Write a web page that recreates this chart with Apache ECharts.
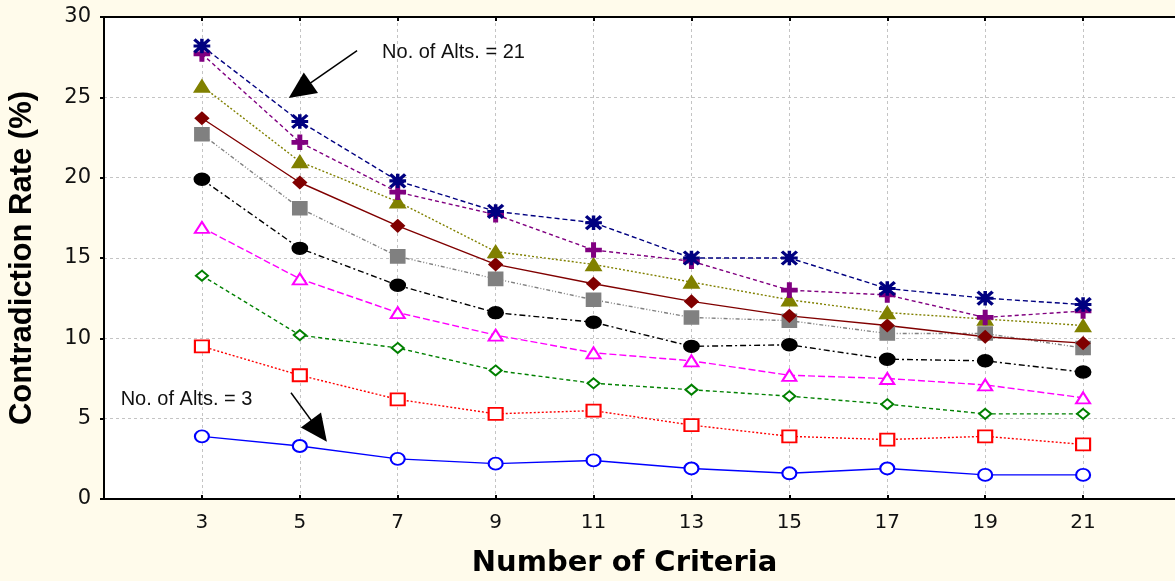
<!DOCTYPE html>
<html>
<head>
<meta charset="utf-8">
<script src="https://cdn.jsdelivr.net/npm/echarts@6/dist/echarts.min.js"></script>
<style>
html,body{margin:0;padding:0;background:#FFFBEB;}
#c{width:1175px;height:581px;}
</style>
</head>
<body>
<div id="c"></div>
<script>
// ---- data ----
const criteria = [3, 5, 7, 9, 11, 13, 15, 17, 19, 21];
const alts3  = [3.9, 3.3, 2.5, 2.2, 2.4, 1.9, 1.6, 1.9, 1.5, 1.5];
const alts5  = [9.5, 7.7, 6.2, 5.3, 5.5, 4.6, 3.9, 3.7, 3.9, 3.4];
const alts7  = [13.9, 10.2, 9.4, 8.0, 7.2, 6.8, 6.4, 5.9, 5.3, 5.3];
const alts9  = [16.9, 13.7, 11.6, 10.2, 9.1, 8.6, 7.7, 7.5, 7.1, 6.3];
const alts11 = [19.9, 15.6, 13.3, 11.6, 11.0, 9.5, 9.6, 8.7, 8.6, 7.9];
const alts13 = [22.7, 18.1, 15.1, 13.7, 12.4, 11.3, 11.1, 10.3, 10.3, 9.4];
const alts15 = [23.7, 19.7, 17.0, 14.6, 13.4, 12.3, 11.4, 10.8, 10.1, 9.7];
const alts17 = [25.7, 21.0, 18.5, 15.4, 14.6, 13.5, 12.4, 11.6, 11.2, 10.8];
const alts19 = [27.7, 22.2, 19.1, 17.7, 15.5, 14.8, 13.0, 12.7, 11.3, 11.7];
const alts21 = [28.2, 23.5, 19.8, 17.9, 17.2, 15.0, 15.0, 13.1, 12.5, 12.1];
const xTickLabels = ['3', '5', '7', '9', '11', '13', '15', '17', '19', '21'];
const xAxisTitle = 'Number of Criteria';
const yAxisTitle = 'Contradiction Rate (%)';
const yMin = 0, yMax = 30, yStep = 5;
const xMinCriteria = 1, xMaxCriteria = 23;

// annotation anchors in data units (criteria, rate)
const note21 = {text: 'No. of Alts. = 21', c: 6.68, v: 27.8};
const note3  = {text: 'No. of Alts. = 3',  c: 1.34, v: 6.18};
const arrow21 = {from: [6.17, 27.9], to: [5.0, 25.43]};
const arrow3  = {from: [4.82, 6.61], to: [5.39, 4.24]};

// criteria -> index on an evenly spaced value axis (one step per 2 criteria)
const xi = c => (c - xMinCriteria) / 2;

const starPath = 'path://M0,8.8H20V11.2H0Z M8.8,0H11.2V20H8.8Z M1.7,0L20,18.3L18.3,20L0,1.7Z M18.3,0L20,1.7L1.7,20L0,18.3Z';
const plusPath = 'path://M7,0H11V7H18V11H11V18H7V11H0V7H7Z';

function mk(values, name, color, dash, symbol, size, width) {
  return {
    name: name,
    type: 'line',
    data: criteria.map((c, i) => [xi(c), values[i]]),
    symbol: symbol,
    symbolSize: size,
    showAllSymbol: true,
    lineStyle: {color: color, width: width || 1.4, type: dash},
    itemStyle: {color: color, borderColor: color, borderWidth: 1.6},
    emphasis: {disabled: true},
    animation: false,
    z: 3
  };
}

const series = [
  mk(alts3,  'Alts 3',  '#0000FF', 'solid', 'emptyCircle', [14, 12]),
  mk(alts5,  'Alts 5',  '#FF0000', [2, 2], 'emptyRect', [14, 12]),
  mk(alts7,  'Alts 7',  '#008000', [4, 3], 'emptyDiamond', [12, 10]),
  mk(alts9,  'Alts 9',  '#FF00FF', [7, 3], 'emptyTriangle', [14, 11]),
  mk(alts11, 'Alts 11', '#000000', [6, 3, 2, 3], 'circle', [15, 12]),
  mk(alts13, 'Alts 13', '#808080', [4, 2, 1, 2, 1, 2], 'rect', [14, 13]),
  mk(alts15, 'Alts 15', '#800000', 'solid', 'diamond', [13, 12]),
  mk(alts17, 'Alts 17', '#808000', [2, 2], 'triangle', [15, 12]),
  mk(alts19, 'Alts 19', '#800080', [4, 3], plusPath, [15, 14]),
  mk(alts21, 'Alts 21', '#000080', [5, 3], starPath, [15, 13])
];

// annotations attached to the last series
series[series.length - 1].markLine = {
  silent: true,
  animation: false,
  symbol: ['none', 'triangle'],
  symbolSize: [25, 27],
  lineStyle: {color: '#000', width: 1.5, type: 'solid'},
  itemStyle: {color: '#000'},
  label: {show: false},
  emphasis: {disabled: true},
  data: [
    [{coord: [xi(arrow21.from[0]), arrow21.from[1]]}, {coord: [xi(arrow21.to[0]), arrow21.to[1]]}],
    [{coord: [xi(arrow3.from[0]), arrow3.from[1]]}, {coord: [xi(arrow3.to[0]), arrow3.to[1]]}]
  ],
  z: 10
};
series[series.length - 1].markPoint = {
  silent: true,
  animation: false,
  symbol: 'circle',
  symbolSize: 0,
  label: {
    show: true, position: 'right', distance: 0,
    color: '#111', fontFamily: 'Liberation Sans, Arial, sans-serif', fontSize: 20,
    formatter: p => p.name
  },
  data: [
    {name: note21.text, coord: [xi(note21.c), note21.v]},
    {name: note3.text, coord: [xi(note3.c), note3.v]}
  ]
};

const chart = echarts.init(document.getElementById('c'), null, {renderer: 'canvas'});
chart.setOption({
  backgroundColor: '#FFFBEB',
  animation: false,
  grid: {left: 104, right: -6, top: 17, bottom: 82, show: true, backgroundColor: '#FFFFFF', borderWidth: 0,
         outerBoundsMode: 'none', containLabel: false},
  xAxis: [{
    type: 'value',
    min: xi(xMinCriteria), max: xi(xMaxCriteria), interval: 1,
    position: 'bottom',
    axisLine: {show: true, onZero: false, lineStyle: {color: '#000', width: 2}},
    axisTick: {show: true, inside: true, length: 4, lineStyle: {color: '#000', width: 2}},
    axisLabel: {
      show: true, margin: 14, color: '#111',
      fontFamily: 'DejaVu Sans, sans-serif', fontSize: 20,
      showMinLabel: true, showMaxLabel: true,
      formatter: v => { const k = Math.round(v) - 1; return (k >= 0 && k < xTickLabels.length) ? xTickLabels[k] : ''; }
    },
    splitLine: {show: true, lineStyle: {color: '#C4C4C4', width: 1, type: [3, 3]}},
    name: xAxisTitle,
    nameLocation: 'middle',
    nameGap: 50,
    nameTextStyle: {color: '#000', fontFamily: 'DejaVu Sans, sans-serif', fontWeight: 'bold', fontSize: 29,
                    padding: [0, 36, 0, 0]}
  }, {
    type: 'value',
    min: xi(xMinCriteria), max: xi(xMaxCriteria), interval: 1,
    position: 'top',
    axisLine: {show: true, onZero: false, lineStyle: {color: '#000', width: 2}},
    axisTick: {show: true, inside: true, length: 4, lineStyle: {color: '#000', width: 2}},
    axisLabel: {show: false},
    splitLine: {show: false}
  }],
  yAxis: {
    type: 'value',
    min: yMin, max: yMax, interval: yStep,
    axisLine: {show: true, onZero: false, lineStyle: {color: '#000', width: 2}},
    axisTick: {show: true, inside: false, length: 4, lineStyle: {color: '#000', width: 2}},
    axisLabel: {margin: 13, color: '#111', fontFamily: 'DejaVu Sans, sans-serif', fontSize: 21},
    splitLine: {show: true, lineStyle: {color: '#C4C4C4', width: 1, type: [3, 3]}},
    name: yAxisTitle,
    nameLocation: 'middle',
    nameGap: 66,
    nameTextStyle: {color: '#000', fontFamily: 'Liberation Sans, Arial, sans-serif', fontWeight: 'bold', fontSize: 31}
  },
  series: series
});
</script>
</body>
</html>
